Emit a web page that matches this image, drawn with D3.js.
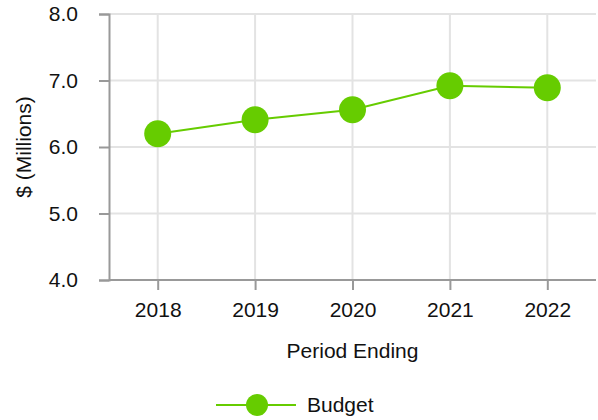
<!DOCTYPE html>
<html>
<head>
<meta charset="utf-8">
<script src="https://cdn.jsdelivr.net/npm/d3@7"></script>
<style>
  html, body { margin: 0; padding: 0; background: #fff; }
  svg { display: block; font-family: "Liberation Sans", Arial, sans-serif; }
</style>
</head>
<body>
<svg id="chart" width="598" height="420"></svg>
<script>
// Budget by period ending, $ millions
const years = ["2018", "2019", "2020", "2021", "2022"];
const budget = [6.2, 6.41, 6.56, 6.92, 6.89];
const yTicks = [4, 5, 6, 7, 8];
const seriesName = "Budget";

const svg = d3.select("#chart");
const plotLeft = 109, plotRight = 596, plotTop = 14, plotBottom = 280;
const green = "#66cc00";
const gridColor = "#e3e3e3";
const axisColor = "#999999";
const fontSize = 21;

const x = d3.scalePoint().domain(years).range([plotLeft, plotRight]).padding(0.5);
const y = d3.scaleLinear().domain([4, 8]).range([plotBottom, plotTop]);

// grid
const grid = svg.append("g");
grid.selectAll("line.h").data(yTicks).join("line")
  .attr("x1", plotLeft).attr("x2", plotRight)
  .attr("y1", d => y(d)).attr("y2", d => y(d))
  .attr("stroke", gridColor).attr("stroke-width", 2);
grid.selectAll("line.v").data(years).join("line")
  .attr("x1", d => x(d)).attr("x2", d => x(d))
  .attr("y1", plotTop).attr("y2", plotBottom)
  .attr("stroke", gridColor).attr("stroke-width", 2);

// y axis
const yAxis = svg.append("g")
  .attr("transform", `translate(${plotLeft},0)`)
  .call(d3.axisLeft(y).tickValues(yTicks).tickFormat(d3.format(".1f")).tickSize(10).tickPadding(21));
yAxis.select(".domain").attr("stroke", axisColor).attr("stroke-width", 2);
yAxis.selectAll(".tick line").attr("stroke", axisColor).attr("stroke-width", 2);
yAxis.selectAll(".tick text").attr("fill", "#111").style("font-size", fontSize + "px")
  .style("font-family", "'Liberation Sans', Arial, sans-serif");

// x axis
const xAxis = svg.append("g")
  .attr("transform", `translate(0,${plotBottom})`)
  .call(d3.axisBottom(x).tickSize(10).tickPadding(12));
xAxis.select(".domain").attr("stroke", axisColor).attr("stroke-width", 2)
  .attr("d", `M${plotLeft},0H${plotRight}`);
xAxis.selectAll(".tick line").attr("stroke", axisColor).attr("stroke-width", 2);
xAxis.selectAll(".tick text").attr("fill", "#111").style("font-size", fontSize + "px")
  .style("font-family", "'Liberation Sans', Arial, sans-serif");

// axis titles
svg.append("text")
  .attr("x", (plotLeft + plotRight) / 2).attr("y", 358)
  .attr("text-anchor", "middle").attr("fill", "#111")
  .style("font-size", fontSize + "px")
  .text("Period Ending");
svg.append("text")
  .attr("transform", `translate(31,${(plotTop + plotBottom) / 2}) rotate(-90)`)
  .attr("text-anchor", "middle").attr("fill", "#111")
  .style("font-size", fontSize + "px")
  .text("$ (Millions)");

// series line and markers
const pts = years.map((yr, i) => ({ yr, v: budget[i] }));
svg.append("path")
  .datum(pts)
  .attr("fill", "none").attr("stroke", green).attr("stroke-width", 2)
  .attr("d", d3.line().x(d => x(d.yr)).y(d => y(d.v)));
svg.append("g").selectAll("circle").data(pts).join("circle")
  .attr("cx", d => x(d.yr)).attr("cy", d => y(d.v)).attr("r", 13.5)
  .attr("fill", green);

// legend
const lg = svg.append("g").attr("transform", "translate(216,405)");
lg.append("line").attr("x1", 0).attr("x2", 80).attr("y1", 0).attr("y2", 0)
  .attr("stroke", green).attr("stroke-width", 2);
lg.append("circle").attr("cx", 41).attr("cy", 0).attr("r", 11).attr("fill", green);
lg.append("text").attr("x", 91).attr("y", 0).attr("dy", "0.35em")
  .attr("fill", "#111").style("font-size", fontSize + "px")
  .text(seriesName);
</script>
</body>
</html>
